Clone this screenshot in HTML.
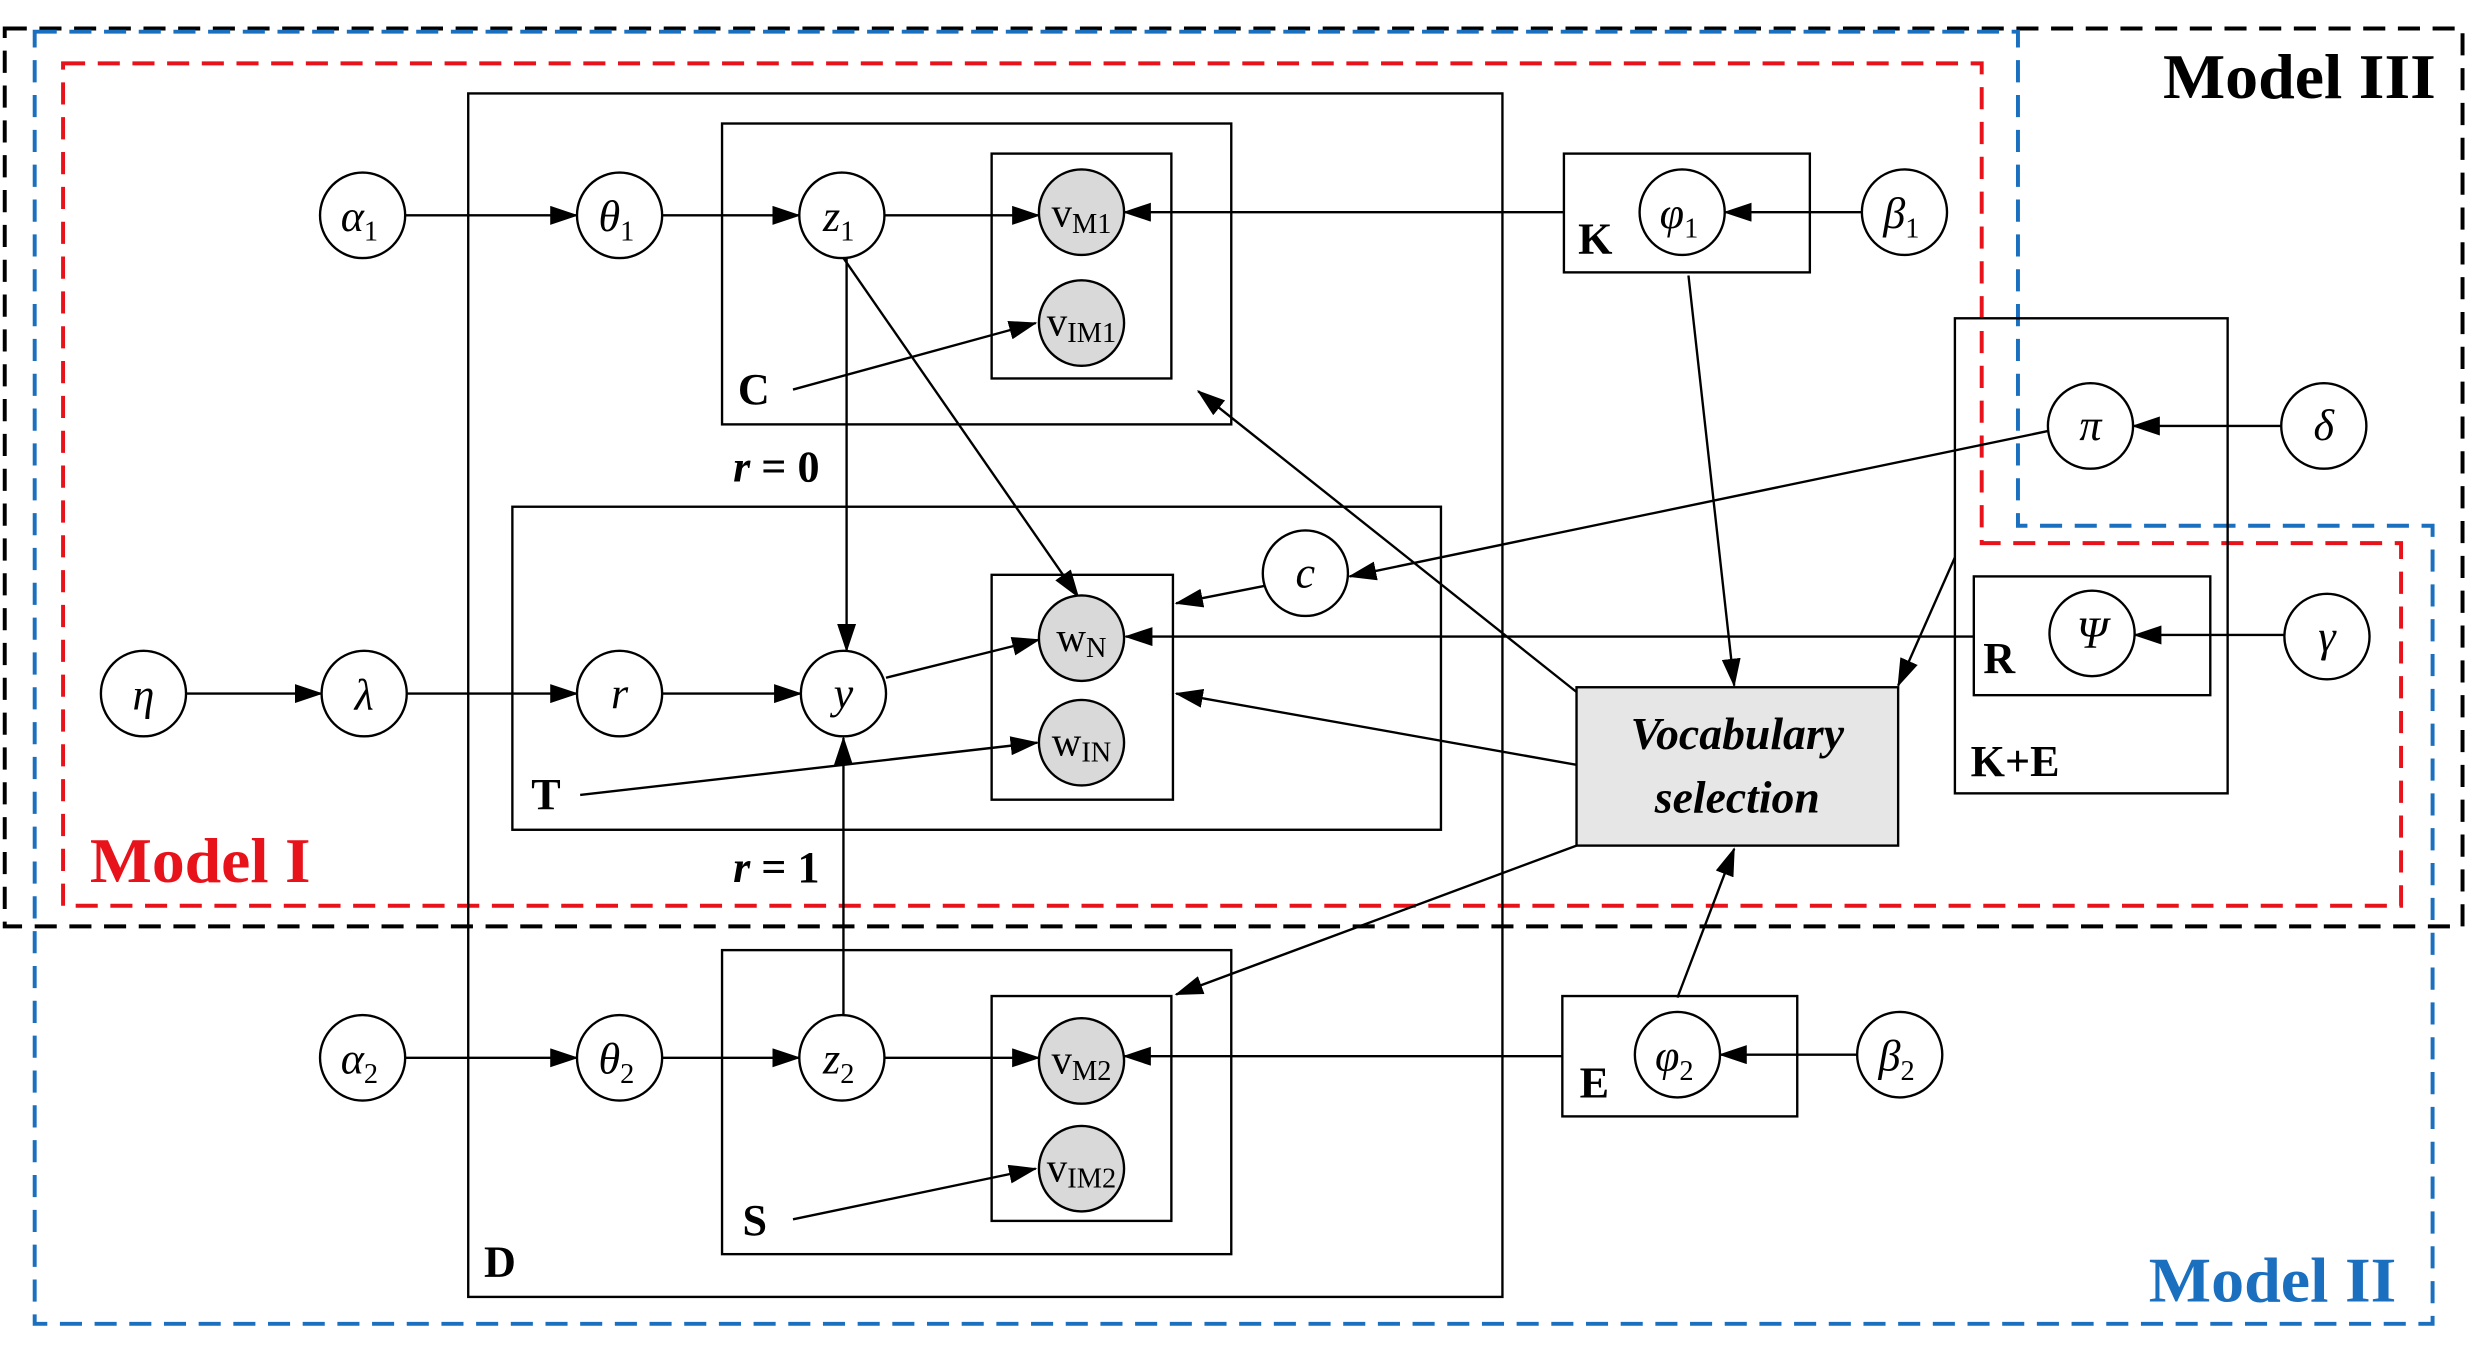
<!DOCTYPE html>
<html><head><meta charset="utf-8"><style>html,body{margin:0;padding:0;background:#fff}svg{display:block}</style></head><body>
<svg xmlns="http://www.w3.org/2000/svg" width="2472" height="1346" viewBox="0 0 1568 850" preserveAspectRatio="none" font-family="'Liberation Serif',serif">
<defs><marker id="a" markerWidth="18" markerHeight="12" refX="17" refY="6" orient="auto" markerUnits="userSpaceOnUse"><path d="M0,0 L18,6 L0,12 z" fill="#000"/></marker></defs>
<g fill="none" stroke-width="2.5" stroke-dasharray="14,8">
<rect x="3" y="18" width="1559" height="567" stroke="#000"/>
<path d="M22,20 H1280 V332 H1543 V836 H22 Z" stroke="#1a6fbf"/>
<path d="M40,40 H1257 V343 H1523 V572 H40 Z" stroke="#e8121b"/>
</g>
<g font-weight="bold" font-size="40">
<text x="1372" y="62" textLength="173" lengthAdjust="spacingAndGlyphs">Model III</text>
<text x="57" y="557" fill="#e8121b" textLength="140" lengthAdjust="spacingAndGlyphs">Model I</text>
<text x="1363" y="822" fill="#1a6fbf" textLength="157" lengthAdjust="spacingAndGlyphs">Model II</text>
</g>
<g fill="none" stroke="#000" stroke-width="1.5">
<rect x="297" y="59" width="656" height="760"/>
<rect x="458" y="78" width="323" height="190"/>
<rect x="629" y="97" width="114" height="142"/>
<rect x="325" y="320" width="589" height="204"/>
<rect x="629" y="363" width="115" height="142"/>
<rect x="458" y="600" width="323" height="192"/>
<rect x="629" y="629" width="114" height="142"/>
<rect x="992" y="97" width="156" height="75"/>
<rect x="1240" y="201" width="173" height="300"/>
<rect x="1252" y="364" width="150" height="75"/>
<rect x="991" y="629" width="149" height="76"/>
<rect x="1000" y="434" width="204" height="100" fill="#e6e6e6"/>
</g>
<g stroke="#000" stroke-width="1.5" fill="none" marker-end="url(#a)">
<line x1="257" y1="136" x2="366" y2="136"/>
<line x1="420" y1="136" x2="507" y2="136"/>
<line x1="561" y1="136" x2="659" y2="136"/>
<line x1="992" y1="134" x2="713" y2="134"/>
<line x1="1181" y1="134" x2="1094" y2="134"/>
<line x1="503" y1="246" x2="657" y2="204"/>
<line x1="537" y1="163" x2="537" y2="411"/>
<line x1="535" y1="163" x2="684" y2="377"/>
<line x1="1000" y1="437" x2="760" y2="247"/>
<line x1="1300" y1="272" x2="856" y2="364"/>
<line x1="1252" y1="402" x2="714" y2="402"/>
<line x1="1000" y1="483" x2="746" y2="438"/>
<line x1="368" y1="502" x2="658" y2="469"/>
<line x1="562" y1="428" x2="659" y2="404"/>
<line x1="802" y1="370" x2="746" y2="381"/>
<line x1="118" y1="438" x2="204" y2="438"/>
<line x1="258" y1="438" x2="366" y2="438"/>
<line x1="420" y1="438" x2="508" y2="438"/>
<line x1="535" y1="641" x2="535" y2="466"/>
<line x1="257" y1="668" x2="366" y2="668"/>
<line x1="420" y1="668" x2="507" y2="668"/>
<line x1="561" y1="668" x2="659" y2="668"/>
<line x1="991" y1="667" x2="713" y2="667"/>
<line x1="1178" y1="666" x2="1091" y2="666"/>
<line x1="503" y1="770" x2="657" y2="738"/>
<line x1="1000" y1="534" x2="746" y2="628"/>
<line x1="1064" y1="630" x2="1100" y2="536"/>
<line x1="1071" y1="174" x2="1100" y2="433"/>
<line x1="1240" y1="352" x2="1204" y2="433"/>
<line x1="1447" y1="269" x2="1353" y2="269"/>
<line x1="1449" y1="401" x2="1354" y2="401"/>
</g>
<g stroke="#000" stroke-width="1.5" fill="#fff">
<circle cx="230" cy="136" r="27"/><circle cx="393" cy="136" r="27"/><circle cx="534" cy="136" r="27"/>
<circle cx="686" cy="134" r="27" fill="#d9d9d9"/><circle cx="686" cy="204" r="27" fill="#d9d9d9"/>
<circle cx="1067" cy="134" r="27"/><circle cx="1208" cy="134" r="27"/>
<circle cx="1326" cy="269" r="27"/><circle cx="1474" cy="269" r="27"/>
<circle cx="828" cy="362" r="27"/>
<circle cx="686" cy="403" r="27" fill="#d9d9d9"/><circle cx="686" cy="469" r="27" fill="#d9d9d9"/>
<circle cx="91" cy="438" r="27"/><circle cx="231" cy="438" r="27"/><circle cx="393" cy="438" r="27"/><circle cx="535" cy="438" r="27"/>
<circle cx="1327" cy="400" r="27"/><circle cx="1476" cy="402" r="27"/>
<circle cx="230" cy="668" r="27"/><circle cx="393" cy="668" r="27"/><circle cx="534" cy="668" r="27"/>
<circle cx="686" cy="670" r="27" fill="#d9d9d9"/><circle cx="686" cy="738" r="27" fill="#d9d9d9"/>
<circle cx="1064" cy="666" r="27"/><circle cx="1205" cy="666" r="27"/>
</g>
<g font-size="28" font-style="italic" text-anchor="middle">
<text x="228" y="146">α<tspan font-size="18" font-style="normal" dy="6">1</tspan></text>
<text x="391" y="146">θ<tspan font-size="18" font-style="normal" dy="6">1</tspan></text>
<text x="532" y="146">z<tspan font-size="18" font-style="normal" dy="6">1</tspan></text>
<text x="1065" y="144">φ<tspan font-size="18" font-style="normal" dy="6">1</tspan></text>
<text x="1206" y="144">β<tspan font-size="18" font-style="normal" dy="6">1</tspan></text>
<text x="1326" y="278">π</text><text x="1474" y="278">δ</text>
<text x="828" y="371">c</text>
<text x="91" y="448">η</text><text x="231" y="448">λ</text><text x="393" y="447">r</text><text x="535" y="447">y</text>
<text x="1327" y="409">Ψ</text><text x="1476" y="411">γ</text>
<text x="228" y="678">α<tspan font-size="18" font-style="normal" dy="6">2</tspan></text>
<text x="391" y="678">θ<tspan font-size="18" font-style="normal" dy="6">2</tspan></text>
<text x="532" y="678">z<tspan font-size="18" font-style="normal" dy="6">2</tspan></text>
<text x="1062" y="676">φ<tspan font-size="18" font-style="normal" dy="6">2</tspan></text>
<text x="1203" y="676">β<tspan font-size="18" font-style="normal" dy="6">2</tspan></text>
</g>
<g font-size="26" text-anchor="middle">
<text x="686" y="143">v<tspan font-size="18" dy="4">M1</tspan></text>
<text x="686" y="212">v<tspan font-size="18" dy="4">IM1</tspan></text>
<text x="686" y="411">w<tspan font-size="18" dy="4">N</tspan></text>
<text x="686" y="477">w<tspan font-size="18" dy="4">IN</tspan></text>
<text x="686" y="678">v<tspan font-size="18" dy="4">M2</tspan></text>
<text x="686" y="746">v<tspan font-size="18" dy="4">IM2</tspan></text>
</g>
<g font-size="28" font-weight="bold">
<text x="1001" y="160">K</text><text x="468" y="255">C</text><text x="337" y="511">T</text>
<text x="471" y="780">S</text><text x="307" y="806">D</text><text x="1258" y="425">R</text>
<text x="1002" y="693">E</text><text x="1250" y="490">K+E</text>
<text x="465" y="304"><tspan font-style="italic">r</tspan> = 0</text>
<text x="465" y="557"><tspan font-style="italic">r</tspan> = 1</text>
</g>
<g font-size="29" font-weight="bold" font-style="italic" text-anchor="middle">
<text x="1102" y="473">Vocabulary</text><text x="1102" y="513">selection</text>
</g>
</svg>
</body></html>
